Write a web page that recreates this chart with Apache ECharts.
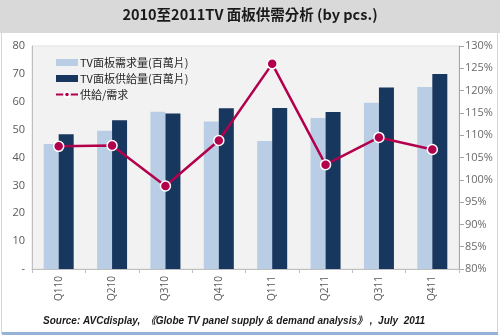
<!DOCTYPE html>
<html>
<head>
<meta charset="utf-8">
<style>
  html, body { margin: 0; padding: 0; background: #ffffff; }
  #chart { width: 500px; height: 336px; }
</style>
<script src="https://cdn.jsdelivr.net/npm/echarts@6/dist/echarts.min.js"></script>
</head>
<body>
<div id="chart"></div>
<script>
// Quarterly TV panel demand / supply (million pieces) and supply-to-demand ratio (%)
const quarters = ['Q110', 'Q210', 'Q310', 'Q410', 'Q111', 'Q211', 'Q311', 'Q411'];
const demand = [44.8, 49.6, 56.4, 52.9, 45.9, 54.2, 59.6, 65.3];
const supply = [48.3, 53.4, 55.8, 57.7, 57.8, 56.3, 65.1, 70.0];
const ratio = [107.5, 107.7, 98.6, 108.8, 126.0, 103.4, 109.5, 106.8];

const seriesNames = ['TV面板需求量(百萬片)', 'TV面板供給量(百萬片)', '供給/需求'];
const titleText = '2010至2011TV 面板供需分析 (by pcs.)';
const sourceText = 'Source: AVCdisplay,  《Globe TV panel supply & demand analysis》 ,  July  2011';

const cjk = '"Noto Sans CJK TC", "Noto Sans", sans-serif';
const axisGray = '#bfbfbf';
const labelGray = '#595959';
const lightBlue = '#b9cde5';
const navy = '#17375e';
const crimson = '#b3004c';

const chart = echarts.init(document.getElementById('chart'), null, { renderer: 'canvas' });

chart.setOption({
  animation: false,
  backgroundColor: '#ffffff',
  textStyle: { fontFamily: cjk },
  graphic: [
    // frame and header band
    { type: 'rect', shape: { x: 1.5, y: 1.5, width: 496, height: 332 },
      style: { fill: 'none', stroke: '#d4d4d4', lineWidth: 1 }, z: -10 },
    { type: 'rect', shape: { x: 0, y: 0, width: 500, height: 33 },
      style: { fill: '#d9d9d9' }, z: -5 },
    { type: 'text', left: 'center', top: 7,
      style: { text: titleText, font: 'bold 14.5px ' + cjk, fill: '#1a1a1a' } },
    { type: 'rect', shape: { x: 2, y: 332, width: 496, height: 3 },
      style: { fill: '#95b3d7' } },
    { type: 'text', left: 43, top: 316,
      style: { text: sourceText, font: 'italic bold 10px "Liberation Sans", "Noto Sans CJK TC", sans-serif', fill: '#1a1a1a' } }
  ],
  legend: {
    orient: 'vertical',
    left: 50,
    top: 52,
    itemWidth: 22,
    itemHeight: 7,
    itemGap: 5,
    textStyle: { fontSize: 11, color: '#262626', fontFamily: cjk, padding: [0, 0, 0, -3] },
    data: [
      { name: seriesNames[0], icon: 'rect' },
      { name: seriesNames[1], icon: 'rect' },
      { name: seriesNames[2] }
    ]
  },
  grid: {
    left: 32, right: 41, top: 46, bottom: 67,
    show: true,
    backgroundColor: '#f2f2f2',
    borderColor: '#e3e3e3',
    borderWidth: 1
  },
  xAxis: {
    type: 'category',
    data: quarters,
    boundaryGap: true,
    axisLine: { show: true, lineStyle: { color: axisGray } },
    axisTick: { show: true, length: 4, lineStyle: { color: axisGray } },
    axisLabel: { rotate: 90, color: labelGray, fontSize: 10, margin: 7, fontFamily: '"Open Sans", sans-serif' },
    splitLine: {
      show: true,
      interval: function (index) { return index === 4; },
      lineStyle: { color: '#d4d4d4', width: 1 }
    }
  },
  yAxis: [
    {
      type: 'value', min: 0, max: 80, interval: 10,
      axisLine: { show: true, lineStyle: { color: axisGray } },
      axisTick: { show: false },
      splitLine: { show: false },
      axisLabel: {
        color: labelGray, fontSize: 11, margin: 7, fontFamily: '"Open Sans", sans-serif',
        formatter: function (v) { return v === 0 ? '-' : String(v); }
      }
    },
    {
      type: 'value', min: 80, max: 130, interval: 5,
      axisLine: { show: true, lineStyle: { color: '#a6a6a6' } },
      axisTick: { show: true, length: 5, lineStyle: { color: '#a6a6a6' } },
      splitLine: { show: false },
      axisLabel: {
        color: '#6a6a6a', fontSize: 11, margin: 6, fontFamily: '"Open Sans", sans-serif',
        formatter: function (v) { return v + '%'; }
      }
    }
  ],
  series: [
    {
      name: seriesNames[0], type: 'bar', data: demand,
      barWidth: 15, barGap: '0%',
      itemStyle: { color: lightBlue }
    },
    {
      name: seriesNames[1], type: 'bar', data: supply,
      barWidth: 15, barGap: '0%',
      itemStyle: { color: navy }
    },
    {
      name: seriesNames[2], type: 'line', yAxisIndex: 1, data: ratio,
      symbol: 'circle', symbolSize: 10,
      lineStyle: { color: crimson, width: 2.5 },
      itemStyle: { color: crimson, borderColor: '#ffffff', borderWidth: 1.5 },
      z: 5
    }
  ]
});
</script>
</body>
</html>
